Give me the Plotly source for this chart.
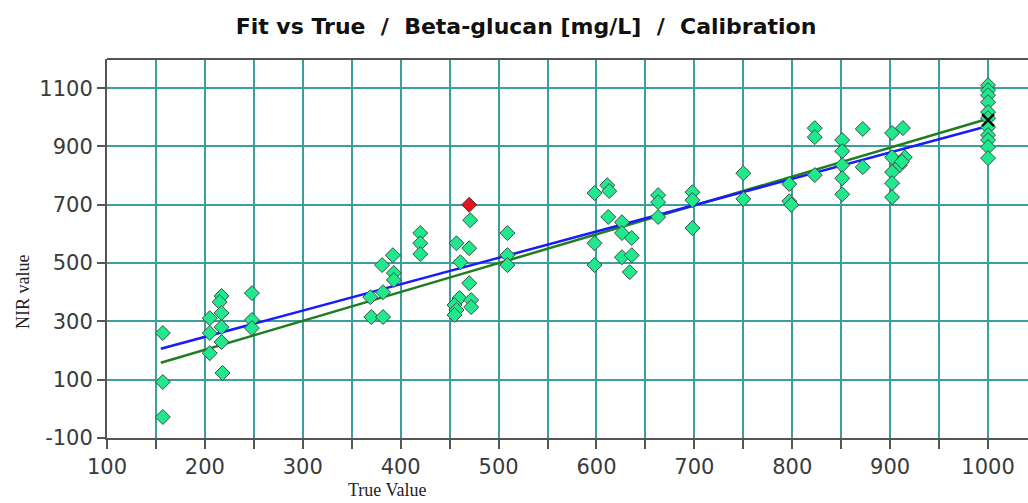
import plotly.graph_objects as go

# Calibration samples (green diamonds)
true_vals = [157, 157, 157,
             205, 205, 205, 217, 215, 217, 217, 217, 218, 248, 248, 248,
             369, 370, 382, 381, 392, 393, 393, 382, 420, 420, 420,
             471, 457, 470, 461, 470, 460, 472, 455, 472, 457, 455, 509, 509, 509,
             598, 611, 613, 612, 626, 626, 636, 598, 598, 626, 636, 634,
             663, 663, 663, 698, 698, 698, 750, 750,
             797, 797, 799, 823, 823, 823,
             851, 851, 851, 851, 851, 872, 872,
             902, 913, 902, 915, 910, 902, 902, 902, 912,
             1000, 1000, 1000, 1000, 1000, 1000, 1000, 1000, 1000, 1000, 1000]
nir_vals = [260, 92, -28,
            311, 260, 191, 387, 366, 329, 280, 229, 123, 397, 305, 277,
            383, 315, 315, 493, 527, 466, 442, 400, 603, 568, 531,
            647, 568, 551, 503, 431, 380, 373, 356, 349, 339, 322, 603, 527, 493,
            740, 767, 747, 658, 640, 603, 586, 568, 493, 520, 527, 469,
            733, 709, 658, 743, 716, 620, 808, 720,
            771, 712, 700, 963, 932, 802,
            922, 884, 836, 791, 736, 960, 829,
            946, 963, 863, 863, 836, 812, 774, 726, 848,
            1110, 1093, 1076, 1052, 1018, 997, 966, 939, 922, 898, 860]

# Outlier (red diamond)
outlier_true = [470]
outlier_nir = [700]

# Marked samples (black crosses)
mark_true = [1000]
mark_nir = [990]

# Regression line (blue) and target line (green)
line_x = [155, 1000]
fit_y = [206, 970]
target_y = [158, 995]

x_ticks = [100, 200, 300, 400, 500, 600, 700, 800, 900, 1000]
y_ticks = [-100, 100, 300, 500, 700, 900, 1100]

grid_col = "#3c9e9e"
axis_col = "#555555"
txt_col = "#3a3a3a"
sans = "DejaVu Sans, Arial, sans-serif"
serif = "Times New Roman, Liberation Serif, serif"

fig = go.Figure()
fig.add_trace(go.Scatter(x=line_x, y=target_y, mode="lines",
                         line=dict(color="#1e7d1e", width=2.5), showlegend=False))
fig.add_trace(go.Scatter(x=line_x, y=fit_y, mode="lines",
                         line=dict(color="#1a1aff", width=2.5), showlegend=False))
fig.add_trace(go.Scatter(x=true_vals, y=nir_vals, mode="markers",
                         marker=dict(symbol="diamond", size=11.5, color="#20e88c",
                                     line=dict(color="#3c4f46", width=1)),
                         showlegend=False))
fig.add_trace(go.Scatter(x=outlier_true, y=outlier_nir, mode="markers",
                         marker=dict(symbol="diamond", size=11.5, color="#e3141a",
                                     line=dict(color="#4a3030", width=1)),
                         showlegend=False))
fig.add_trace(go.Scatter(x=mark_true, y=mark_nir, mode="markers",
                         marker=dict(symbol="x-thin", size=12,
                                     line=dict(color="#111111", width=2.5)),
                         showlegend=False))

fig.update_layout(
    width=1028, height=503,
    margin=dict(l=107, r=0, t=59, b=65),
    paper_bgcolor="white", plot_bgcolor="white",
    title=dict(text="Fit vs True\u00a0\u00a0/\u00a0\u00a0Beta-glucan [mg/L]\u00a0\u00a0/\u00a0\u00a0Calibration",
               x=526 / 1028, xanchor="center", y=1 - 26 / 503, yanchor="middle",
               font=dict(family=sans, size=22, color="#111111", weight="bold")),
    font=dict(family=sans, color=txt_col),
)

fig.update_xaxes(
    range=[100, 1040.8], tickvals=x_ticks, ticktext=[str(v) for v in x_ticks],
    showgrid=True, gridcolor=grid_col, gridwidth=2,
    ticks="outside", ticklen=9, tickwidth=2, tickcolor=axis_col,
    minor=dict(dtick=50, tick0=100, showgrid=True, gridcolor=grid_col, gridwidth=2,
               ticks="outside", ticklen=9, tickwidth=2, tickcolor=axis_col),
    showline=True, linecolor=axis_col, linewidth=2, zeroline=False,
    tickfont=dict(family=sans, size=21, color=txt_col),
)
fig.update_yaxes(
    range=[-100, 1200], tickvals=y_ticks, ticktext=[str(v) for v in y_ticks],
    showgrid=True, gridcolor=grid_col, gridwidth=2,
    ticks="outside", ticklen=8, tickwidth=2, tickcolor=axis_col,
    showline=True, linecolor=axis_col, linewidth=2, zeroline=False,
    tickfont=dict(family=sans, size=21, color=txt_col),
)

# top frame line
fig.add_shape(type="line", xref="paper", yref="paper", x0=0, x1=1, y0=1, y1=1,
              line=dict(color=axis_col, width=2))

fig.add_annotation(text="True Value", xref="paper", yref="paper",
                   x=(387 - 107) / 921, y=-(490 - 438) / 379, xanchor="center", yanchor="middle",
                   showarrow=False, font=dict(family=serif, size=18, color="#222222"))
fig.add_annotation(text="NIR value", xref="paper", yref="paper",
                   x=-(107 - 23) / 921, y=(438 - 292) / 379, xanchor="center", yanchor="middle",
                   textangle=-90, showarrow=False,
                   font=dict(family=serif, size=18, color="#222222"))

fig.write_html("out.html")
